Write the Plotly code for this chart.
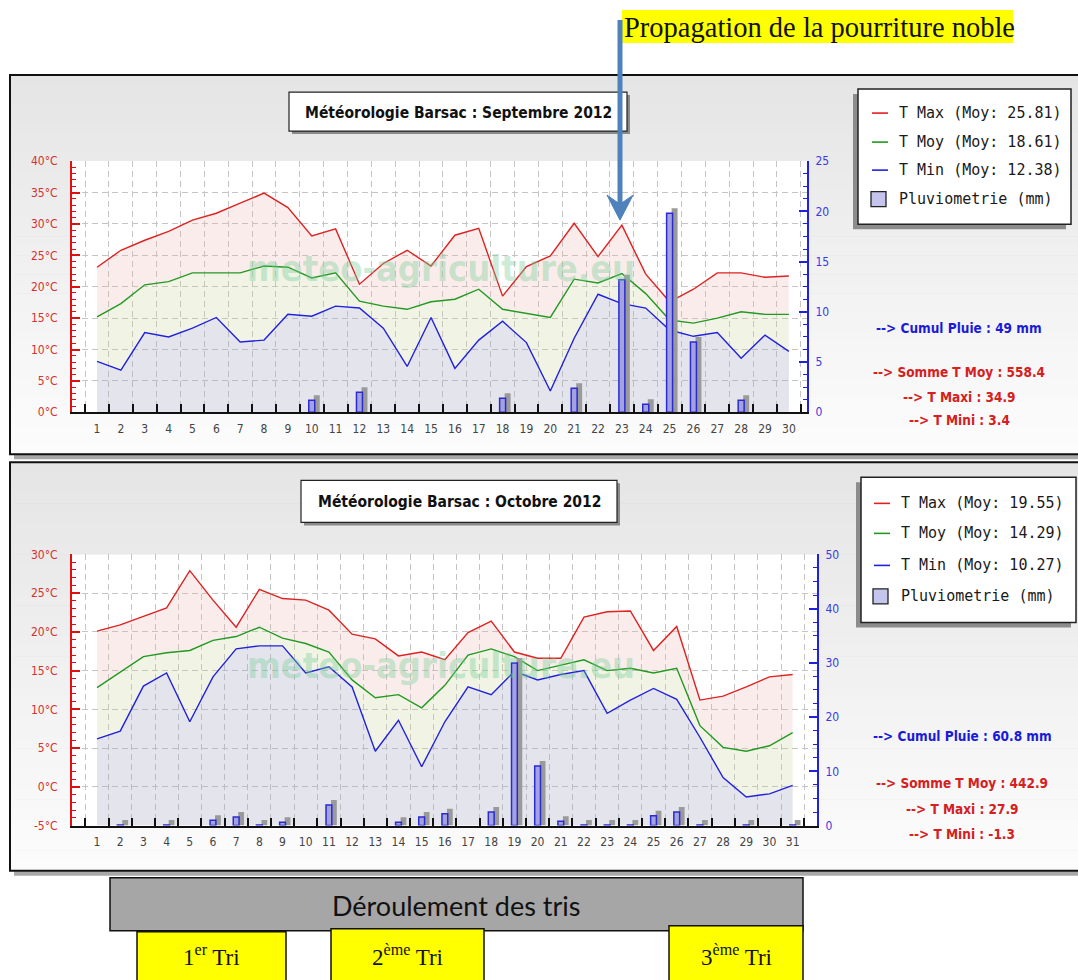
import plotly.graph_objects as go

W, H = 1078, 980

# ---------------- data ----------------
days_sep = list(range(1, 31))
tmax_sep = [23.1, 25.8, 27.4, 28.8, 30.6, 31.7, 33.3, 34.9, 32.6, 28.1,
            29.2, 20.4, 23.7, 25.8, 23.3, 28.2, 29.3, 18.5, 23.2, 24.9,
            30.1, 24.8, 29.8, 22.0, 17.6, 19.6, 22.2, 22.2, 21.5, 21.7]
tmoy_sep = [15.2, 17.3, 20.3, 20.8, 22.2, 22.2, 22.2, 23.3, 23.1, 21.4,
            22.2, 17.7, 16.9, 16.4, 17.6, 18.0, 19.6, 16.4, 15.8, 15.1,
            21.2, 20.6, 22.1, 18.9, 14.7, 14.2, 15.0, 16.0, 15.6, 15.6]
tmin_sep = [8.1, 6.7, 12.7, 12.0, 13.4, 15.1, 11.2, 11.5, 15.6, 15.3,
            16.9, 16.6, 13.4, 7.3, 15.1, 7.0, 11.5, 14.5, 11.1, 3.4,
            11.8, 18.8, 17.3, 16.6, 13.1, 12.1, 12.7, 8.6, 12.3, 9.7]
rain_sep = [0, 0, 0, 0, 0, 0, 0, 0, 0, 1.2,
            0, 2.0, 0, 0, 0, 0, 0, 1.4, 0, 0,
            2.4, 0, 13.2, 0.8, 19.8, 7.0, 0, 1.2, 0, 0]

days_oct = list(range(1, 32))
tmax_oct = [20.1, 20.9, 22.0, 23.1, 27.9, 24.1, 20.6, 25.5, 24.3, 24.1,
            22.8, 19.7, 19.1, 16.9, 17.4, 16.4, 19.9, 21.4, 17.4, 16.6,
            16.6, 21.9, 22.6, 22.7, 17.6, 20.7, 11.2, 11.7, 12.9, 14.2, 14.5]
tmoy_oct = [12.8, 14.8, 16.8, 17.3, 17.6, 18.9, 19.4, 20.6, 19.2, 18.5,
            17.4, 13.8, 11.5, 11.9, 10.2, 13.1, 17.0, 17.8, 16.8, 15.0,
            15.7, 16.4, 15.0, 15.3, 14.7, 15.3, 7.9, 5.1, 4.6, 5.3, 7.0]
tmin_oct = [6.2, 7.2, 13.0, 14.7, 8.4, 14.2, 17.8, 18.2, 18.2, 14.7,
            15.5, 12.9, 4.6, 8.6, 2.6, 8.4, 12.9, 11.9, 14.9, 13.8,
            14.5, 15.0, 9.5, 11.2, 12.7, 11.3, 6.4, 1.2, -1.3, -0.9, 0.2]
rain_oct = [0, 0.1, 0, 0.1, 0, 1.0, 1.6, 0.1, 0.6, 0,
            3.8, 0, 0, 0.6, 1.6, 2.2, 0, 2.5, 30.0, 11.0,
            0.8, 0.1, 0.1, 0.1, 1.8, 2.5, 0.1, 0, 0.1, 0, 0.1]

titles = ["Météorologie Barsac : Septembre 2012", "Météorologie Barsac : Octobre 2012"]
legend_sep = ["T Max (Moy: 25.81)", "T Moy (Moy: 18.61)", "T Min (Moy: 12.38)", "Pluviometrie (mm)"]
legend_oct = ["T Max (Moy: 19.55)", "T Moy (Moy: 14.29)", "T Min (Moy: 10.27)", "Pluviometrie (mm)"]
stats_sep = ["--> Cumul Pluie : 49 mm", "--> Somme T Moy : 558.4", "--> T Maxi : 34.9", "--> T Mini : 3.4"]
stats_oct = ["--> Cumul Pluie : 60.8 mm", "--> Somme T Moy : 442.9", "--> T Maxi : 27.9", "--> T Mini : -1.3"]
temp_ticks_sep = [0, 5, 10, 15, 20, 25, 30, 35, 40]
rain_ticks_sep = [0, 5, 10, 15, 20, 25]
temp_ticks_oct = [-5, 0, 5, 10, 15, 20, 25, 30]
rain_ticks_oct = [0, 10, 20, 30, 40, 50]
watermark = "meteo-agriculture.eu"
callout = "Propagation de la pourriture noble"
tri_header = "Déroulement des tris"
tri_labels = ["1<sup>er</sup> Tri", "2<sup>ème</sup> Tri", "3<sup>ème</sup> Tri"]

# ---------------- style ----------------
RED, GREEN, BLUE = "#dd2222", "#229922", "#2222dd"
AXRED, AXBLUE = "#e01010", "#2020e0"
FILL_MAX = "rgba(240,180,180,0.25)"
FILL_MOY = "rgba(200,210,150,0.25)"
FILL_MIN = "rgba(170,172,200,0.32)"
GRID = "#c4c4c4"
COND = "DejaVu Sans Condensed, DejaVu Sans, sans-serif"


def px(x):
    return x / W


def py(y):
    return 1 - ((y - 7) / 0.985) / H


fig = go.Figure()


def add_month(xa, ya, ya2, days, tmax, tmoy, tmin, rain, base_val, sdx, sdy):
    base = [base_val] * len(days)
    fig.add_trace(go.Scatter(x=days, y=base, mode="lines", line=dict(width=0),
                             xaxis=xa, yaxis=ya, hoverinfo="skip"))
    fig.add_trace(go.Scatter(x=days, y=tmin, mode="lines", line=dict(width=0),
                             fill="tonexty", fillcolor=FILL_MIN, xaxis=xa, yaxis=ya, hoverinfo="skip"))
    fig.add_trace(go.Scatter(x=days, y=tmoy, mode="lines", line=dict(width=0),
                             fill="tonexty", fillcolor=FILL_MOY, xaxis=xa, yaxis=ya, hoverinfo="skip"))
    fig.add_trace(go.Scatter(x=days, y=tmax, mode="lines", line=dict(width=0),
                             fill="tonexty", fillcolor=FILL_MAX, xaxis=xa, yaxis=ya, hoverinfo="skip"))
    for ser, col in ((tmax, RED), (tmoy, GREEN), (tmin, BLUE)):
        fig.add_trace(go.Scatter(x=days, y=ser, mode="lines", line=dict(color=col, width=1.4),
                                 xaxis=xa, yaxis=ya))
    bw = 0.25
    fig.add_trace(go.Bar(x=days, y=[v + sdy if v > 0 else None for v in rain],
                         width=bw, offset=-bw / 2 + sdx,
                         marker=dict(color="#9a9a9a", line=dict(width=0)),
                         xaxis=xa, yaxis=ya2, hoverinfo="skip"))
    fig.add_trace(go.Bar(x=days, y=[v if v > 0 else None for v in rain],
                         width=bw, offset=-bw / 2,
                         marker=dict(color="#a2a2de", line=dict(color="#2a2ad0", width=1.5)),
                         xaxis=xa, yaxis=ya2))


add_month("x", "y", "y2", days_sep, tmax_sep, tmoy_sep, tmin_sep, rain_sep, 0, 0.21, 0.5)
add_month("x2", "y3", "y4", days_oct, tmax_oct, tmoy_oct, tmin_oct, rain_oct, -5, 0.215, 0.92)

shapes = []
annotations = []


def rect(x0, y0, x1, y1, fill=None, line=None, lw=1.0, layer="below"):
    shapes.append(dict(type="rect", xref="paper", yref="paper",
                       x0=px(x0), x1=px(x1), y0=py(y1), y1=py(y0),
                       fillcolor=fill if fill else "rgba(0,0,0,0)",
                       line=dict(color=line if line else "rgba(0,0,0,0)", width=lw if line else 0),
                       layer=layer))


def text(x, y, s, size, color="#111", family=COND, xanchor="center", yanchor="middle"):
    annotations.append(dict(x=px(x), y=py(y), xref="paper", yref="paper", text=s,
                            showarrow=False, xanchor=xanchor, yanchor=yanchor,
                            font=dict(size=size, color=color, family=family)))


def panel(y0, y1):
    rect(14, y0 + 5, 1090, y1 + 5, fill="#a8a8a8")
    n = 40
    for i in range(n):
        t = i / (n - 1)
        c = int(round(229 + (252 - 229) * t))
        ya = y0 + (y1 - y0) * i / n
        yb = y0 + (y1 - y0) * (i + 1) / n + 0.6
        rect(10, ya, 1090, yb, fill=f"rgb({c},{c},{c})")
    rect(10, y0, 1090, y1, line="#111", lw=2)


panel(75, 454)
panel(462, 870)

# plot areas
rect(72, 161, 807, 412, fill="white")
rect(72, 554, 817, 825, fill="white")

# title boxes
for (x0, y0, x1, y1), t in zip([(289, 92, 627, 131), (301, 480, 617, 522)], titles):
    rect(x0 + 3, y0 + 3, x1 + 3, y1 + 3, fill="#8a8a8a")
    rect(x0, y0, x1, y1, fill="white", line="#222", lw=1.2)
    text((x0 + x1) / 2, (y0 + y1) / 2 + 1, "<b>" + t + "</b>", 15.5, "#111")


# legend boxes
def legend_box(box, rows, labels, xline, xtext):
    x0, y0, x1, y1 = box
    rect(x0 - 5, y0 + 5, x1 - 5, y1 + 5, fill="#8c8c8c")
    rect(x0, y0, x1, y1, fill="white", line="#222", lw=1.5)
    for r, col in zip(rows[:3], (RED, GREEN, BLUE)):
        shapes.append(dict(type="line", xref="paper", yref="paper",
                           x0=px(xline), x1=px(xline + 16), y0=py(r), y1=py(r),
                           line=dict(color=col, width=1.6)))
    rect(xline - 1, rows[3] - 7.5, xline + 14, rows[3] + 7.5, fill="#c4c4ec", line="#222", lw=1.3, layer="above")
    for r, lab in zip(rows, labels):
        text(xtext, r, lab, 15, "#1a1a1a", "DejaVu Sans Mono, monospace", xanchor="left")


legend_box((858, 89, 1071, 224), [113, 142, 170, 199], legend_sep, 872, 897)
legend_box((861, 477, 1076, 622), [503, 533, 565, 596], legend_oct, 874, 899)

# stats
for (xc, ys), st in zip([(959, [328, 372, 397, 420]), (962, [735, 782, 808, 833])], [stats_sep, stats_oct]):
    for i, (y, s) in enumerate(zip(ys, st)):
        text(xc, y, "<b>" + s + "</b>", 13.5, "#1a1ad8" if i == 0 else "#d42020")

# watermarks
text(441, 268, "<b>" + watermark + "</b>", 36, "rgba(120,205,150,0.38)")
text(441, 665, "<b>" + watermark + "</b>", 36, "rgba(120,205,150,0.38)")

# callout
rect(622, 10, 1013, 43, fill="#ffff00", layer="above")
text(622, 27, callout, 28.5, "#111", "Liberation Serif, Times New Roman, serif", xanchor="left")
shapes.append(dict(type="line", xref="paper", yref="paper",
                   x0=px(620), x1=px(620), y0=py(20), y1=py(205),
                   line=dict(color="#4f81bd", width=5), layer="above"))
shapes.append(dict(type="path", xref="paper", yref="paper",
                   path=f"M {px(607)},{py(195)} L {px(620)},{py(220)} L {px(633)},{py(195)} L {px(620)},{py(204)} Z",
                   fillcolor="#4f81bd", line=dict(color="#4f81bd", width=1), layer="above"))

# tri boxes
rect(110, 877, 803, 930, fill="#a6a6a6", line="#111", lw=1.5, layer="above")
text(456, 905, tri_header, 27, "#111", "Lato, Open Sans, sans-serif")
for (x0, y0, x1), lab in zip([(137, 931, 286), (331, 928, 484), (669, 925, 803)], tri_labels):
    rect(x0, y0, x1, 1000, fill="#ffff00", line="#111", lw=1.5, layer="above")
    text((x0 + x1) / 2, 955, lab, 23, "#111", "Liberation Serif, Times New Roman, serif")


def xaxis_cfg(domain, rng, anchor, days):
    return dict(domain=domain, range=rng, anchor=anchor,
                tickmode="array", tickvals=days, ticktext=[str(d) for d in days],
                ticks="", showgrid=False, zeroline=False,
                showline=True, linecolor="#111", linewidth=2,
                tickfont=dict(size=12, color="#444", family=COND), ticklabelstandoff=4,
                minor=dict(tickmode="array", tickvals=[d - 0.5 for d in days] + [days[-1] + 0.5],
                           ticks="inside", ticklen=8, tickcolor="#111", tickwidth=1.5,
                           showgrid=True, gridcolor=GRID, griddash="6px,4px", gridwidth=1))


def ytemp_cfg(domain, rng, anchor, ticks):
    return dict(domain=domain, range=rng, anchor=anchor,
                tickmode="array", tickvals=ticks, ticktext=[f"{v}°C" for v in ticks],
                ticks="inside", ticklen=8, tickcolor=AXRED, tickwidth=1.5,
                showline=True, linecolor=AXRED, linewidth=2, zeroline=False,
                showgrid=True, gridcolor=GRID, griddash="6px,4px", gridwidth=1,
                tickfont=dict(size=12, color="#d83030", family=COND), ticklabelstandoff=10,
                minor=dict(dtick=1, ticks="inside", ticklen=4, tickcolor=AXRED, tickwidth=1.2, showgrid=False))


def yrain_cfg(over, rng, anchor, ticks, mdt):
    return dict(overlaying=over, side="right", range=rng, anchor=anchor,
                tickmode="array", tickvals=ticks, ticktext=[str(v) for v in ticks],
                ticks="inside", ticklen=8, tickcolor=AXBLUE, tickwidth=1.5,
                showline=True, linecolor=AXBLUE, linewidth=2, zeroline=False, showgrid=False,
                tickfont=dict(size=12, color="#3a3ae0", family=COND), ticklabelstandoff=4,
                minor=dict(dtick=mdt, ticks="inside", ticklen=4, tickcolor=AXBLUE, tickwidth=1.2, showgrid=False))


fig.update_layout(
    width=W, height=H, margin=dict(l=0, r=0, t=0, b=0),
    paper_bgcolor="white", plot_bgcolor="rgba(0,0,0,0)",
    showlegend=False, barmode="overlay",
    xaxis=xaxis_cfg([px(72), px(807)], [-0.05, 30.76], "y", days_sep),
    yaxis=ytemp_cfg([py(412), py(161)], [0, 40], "x", temp_ticks_sep),
    yaxis2=yrain_cfg("y", [0, 25], "x", rain_ticks_sep, 1.25),
    xaxis2=xaxis_cfg([px(72), px(817)], [-0.08, 32.05], "y3", days_oct),
    yaxis3=ytemp_cfg([py(825), py(554)], [-5, 30], "x2", temp_ticks_oct),
    yaxis4=yrain_cfg("y3", [0, 50], "x2", rain_ticks_oct, 2.5),
    shapes=shapes, annotations=annotations,
)

fig.write_html("out.html", config={"displayModeBar": False},
               post_script="document.body.style.margin='0px';document.body.style.overflow='hidden';")
